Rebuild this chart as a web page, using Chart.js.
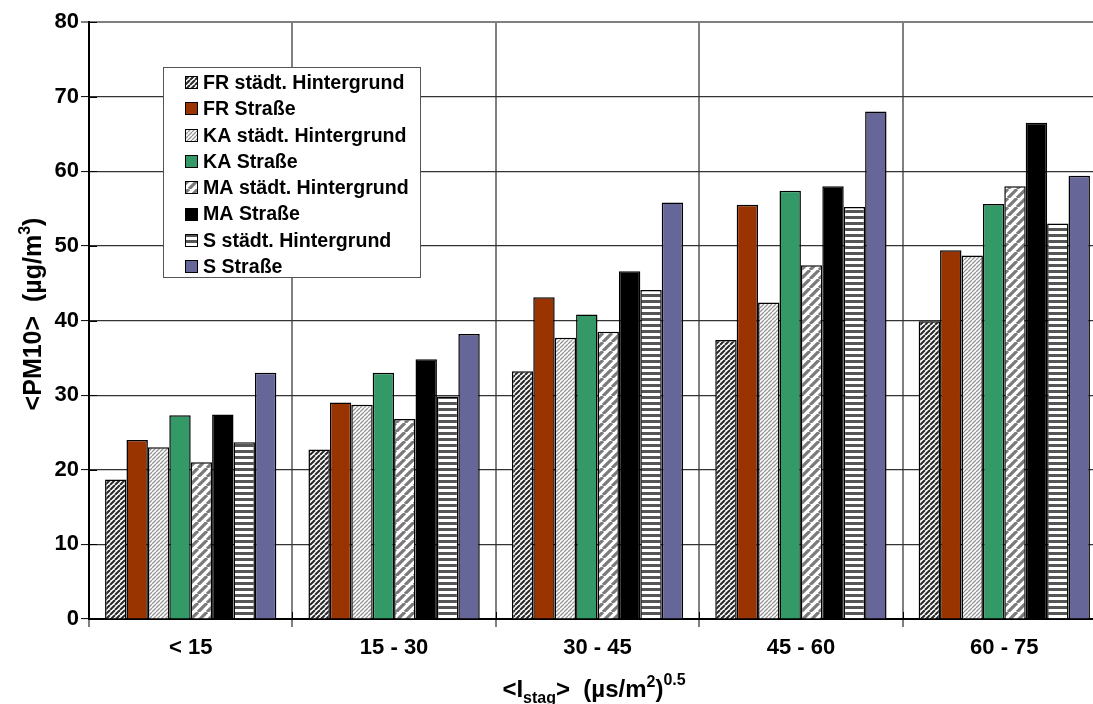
<!DOCTYPE html>
<html>
<head>
<meta charset="utf-8">
<script src="https://cdn.jsdelivr.net/npm/chart.js@4/dist/chart.umd.min.js"></script>
<style>
  html, body { margin: 0; padding: 0; background: #fff; overflow: hidden; }
  #wrap { width: 1093px; height: 704px; overflow: hidden; }
  canvas { display: block; }
</style>
</head>
<body>
<div id="wrap"><canvas id="c" width="1106" height="704"></canvas></div>
<script>
// Stagnation index classes and mean PM10 per station
const categories = ['< 15', '15 - 30', '30 - 45', '45 - 60', '60 - 75'];
const seriesNames = [
  'FR städt. Hintergrund', 'FR Straße',
  'KA städt. Hintergrund', 'KA Straße',
  'MA städt. Hintergrund', 'MA Straße',
  'S städt. Hintergrund', 'S Straße'
];
const frHintergrund = [18.7, 22.7, 33.2, 37.4, 39.9];
const frStrasse     = [24.0, 29.0, 43.1, 55.5, 49.4];
const kaHintergrund = [23.0, 28.7, 37.7, 42.4, 48.7];
const kaStrasse     = [27.3, 33.0, 40.8, 57.4, 55.6];
const maHintergrund = [21.0, 26.8, 38.5, 47.4, 58.0];
const maStrasse     = [27.4, 34.8, 46.6, 58.0, 66.5];
const sHintergrund  = [23.7, 29.8, 44.1, 55.2, 53.0];
const sStrasse      = [33.0, 38.2, 55.8, 68.0, 59.4];
const yTicks = [0, 10, 20, 30, 40, 50, 60, 70, 80];

const FONT = "'Liberation Sans', Arial, sans-serif";
const canvas = document.getElementById('c');
const mainCtx = canvas.getContext('2d');

// Fill patterns for the background stations
function diagPattern(period, lw, color) {
  const t = document.createElement('canvas');
  t.width = t.height = period;
  const g = t.getContext('2d');
  g.fillStyle = '#fff';
  g.fillRect(0, 0, period, period);
  g.strokeStyle = color;
  g.lineWidth = lw;
  g.beginPath();
  for (let k = -1; k <= 1; k++) {
    g.moveTo(k * period, period);
    g.lineTo(k * period + period, 0);
  }
  g.stroke();
  return mainCtx.createPattern(t, 'repeat');
}
function stripePattern(period, band, color) {
  const t = document.createElement('canvas');
  t.width = 4; t.height = period;
  const g = t.getContext('2d');
  g.fillStyle = '#fff';
  g.fillRect(0, 0, 4, period);
  g.fillStyle = color;
  g.fillRect(0, 0, 4, band);
  return mainCtx.createPattern(t, 'repeat');
}

const fills = [
  diagPattern(5, 2.1, '#2a2a2a'),
  '#993300',
  diagPattern(4, 1.3, '#949494'),
  '#339966',
  diagPattern(9, 3.2, '#7a7a7a'),
  '#000000',
  stripePattern(6, 3, '#555555'),
  '#666699'
];
const values = [frHintergrund, frStrasse, kaHintergrund, kaStrasse,
                maHintergrund, maStrasse, sHintergrund, sStrasse];

const datasets = seriesNames.map((name, i) => ({
  label: name,
  data: values[i],
  backgroundColor: fills[i],
  borderColor: '#000',
  borderWidth: 1.5,
  borderSkipped: 'bottom',
  categoryPercentage: 8 / 9.5,
  barPercentage: 1.0
}));

// Draws a run of text pieces with sub/superscripts
function drawRich(ctx, pieces, x, y) {
  let w = 0;
  pieces.forEach(p => {
    ctx.font = 'bold ' + p.size + 'px ' + FONT;
    p.w = ctx.measureText(p.t).width;
    w += p.w;
  });
  let cx = x - w / 2;
  pieces.forEach(p => {
    ctx.font = 'bold ' + p.size + 'px ' + FONT;
    ctx.fillText(p.t, cx, y + (p.dy || 0));
    cx += p.w;
  });
}

const decorations = {
  id: 'decorations',
  afterDatasetsDraw(chart) {
    const ctx = chart.ctx;
    const ys = chart.scales.y;
    const area = chart.chartArea;
    ctx.save();
    // inner halves of the cross tick marks
    ctx.strokeStyle = '#000';
    ctx.lineWidth = 1;
    yTicks.forEach(v => {
      const py = Math.round(ys.getPixelForValue(v)) + 0.5;
      ctx.beginPath();
      ctx.moveTo(area.left, py);
      ctx.lineTo(area.left + 8, py);
      ctx.stroke();
    });
    for (let i = 1; i <= categories.length; i++) {
      const px = Math.round(area.left + i * (area.right - area.left) / categories.length) + 0.5;
      ctx.beginPath();
      ctx.moveTo(px, area.bottom - 7);
      ctx.lineTo(px, area.bottom);
      ctx.stroke();
    }
    ctx.restore();
  },
  afterDraw(chart) {
    const ctx = chart.ctx;
    ctx.save();
    ctx.fillStyle = '#000';
    ctx.textBaseline = 'alphabetic';
    ctx.textAlign = 'left';

    // x axis title
    drawRich(ctx, [
      { t: '<I', size: 24 },
      { t: 'stag', size: 16, dy: 6 },
      { t: '>  (µs/m', size: 24 },
      { t: '2', size: 16, dy: -10 },
      { t: ')', size: 24 },
      { t: '0.5', size: 16, dy: -12 }
    ], 594, 697);

    // y axis title
    ctx.save();
    ctx.translate(41, 314);
    ctx.rotate(-Math.PI / 2);
    drawRich(ctx, [
      { t: '<PM10>  (µg/m', size: 25 },
      { t: '3', size: 16, dy: -11 },
      { t: ')', size: 25 }
    ], 0, 0);
    ctx.restore();

    // legend
    const lx = 163.5, ly = 67.5, lw = 257, lh = 210;
    ctx.fillStyle = '#fff';
    ctx.fillRect(lx, ly, lw, lh);
    ctx.strokeStyle = '#555';
    ctx.lineWidth = 1;
    ctx.strokeRect(lx, ly, lw, lh);
    ctx.font = 'bold 19.6px ' + FONT;
    ctx.textBaseline = 'middle';
    seriesNames.forEach((name, i) => {
      const cy = 82.5 + i * 26.3;
      ctx.fillStyle = fills[i];
      ctx.fillRect(185, Math.round(cy - 6.5), 13, 13);
      ctx.strokeStyle = '#000';
      ctx.strokeRect(185.5, Math.round(cy - 6.5) + 0.5, 12, 12);
      ctx.fillStyle = '#000';
      ctx.fillText(name, 203, cy + 1);
    });
    ctx.restore();
  }
};

new Chart(canvas, {
  type: 'bar',
  data: { labels: categories, datasets },
  options: {
    responsive: false,
    animation: false,
    devicePixelRatio: 1,
    layout: { padding: { top: 22, right: 0, bottom: 0, left: 0 } },
    plugins: { legend: { display: false }, tooltip: { enabled: false } },
    scales: {
      x: {
        grid: {
          offset: true,
          color: '#808080',
          lineWidth: 2,
          drawTicks: true,
          tickLength: 8,
          tickColor: '#000',
          tickWidth: 1
        },
        border: { color: '#000', width: 2 },
        ticks: {
          color: '#000',
          padding: 8,
          font: { family: FONT, size: 22, weight: 'bold' }
        },
        afterFit(scale) { scale.height = 85; }
      },
      y: {
        min: 0,
        max: 80,
        afterBuildTicks(scale) { scale.ticks = yTicks.map(v => ({ value: v })); },
        grid: {
          color: ctx => (ctx.tick && ctx.tick.value === 80) ? '#808080' : '#333333',
          lineWidth: ctx => (ctx.tick && ctx.tick.value === 80) ? 2 : 1.2,
          tickLength: 8,
          tickColor: '#000',
          tickWidth: 1
        },
        border: { color: '#000', width: 2 },
        ticks: {
          color: '#000',
          padding: 2,
          font: { family: FONT, size: 22, weight: 'bold' }
        },
        afterFit(scale) { scale.width = 89; }
      }
    }
  },
  plugins: [decorations]
});
</script>
</body>
</html>
